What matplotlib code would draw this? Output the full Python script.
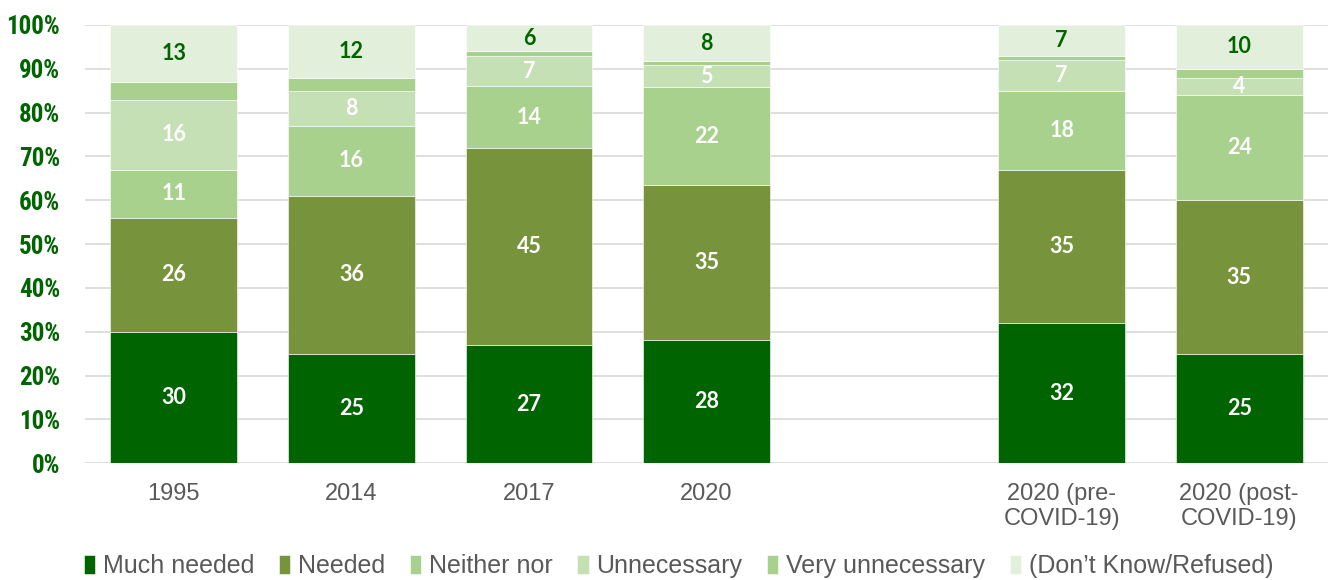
import numpy as np
import matplotlib
matplotlib.use("Agg")
import matplotlib.pyplot as plt
from matplotlib import font_manager
from matplotlib.ticker import FuncFormatter

# survey responses, percent of respondents
categories = ["1995", "2014", "2017", "2020", "2020 (pre-\nCOVID-19)", "2020 (post-\nCOVID-19)"]
positions = [0, 1, 2, 3, 5, 6]   # blank slot between 2020 and the COVID split

much_needed = [30, 25, 27, 28.1, 32, 25]
needed = [26, 36, 45, 35.4, 35, 35]
neither_nor = [11, 16, 14, 22.3, 18, 24]
unnecessary = [16, 8, 7, 5, 7, 4]
very_unnecessary = [4, 3, 1, 0.9, 1, 2]
dont_know = [13, 12, 6, 8.3, 7, 10]

series_names = ["Much needed", "Needed", "Neither nor", "Unnecessary",
                "Very unnecessary", "(Don\u2019t Know/Refused)"]
series_values = [much_needed, needed, neither_nor, unnecessary, very_unnecessary, dont_know]
series_colors = ["#006400", "#77933C", "#A9D18E", "#C5E0B4", "#A9D18E", "#E2EFDA"]
label_colors = ["white", "white", "white", "white", None, "#006400"]

GRAY = "#595959"
GREEN = "#006400"
regular = ["Liberation Sans", "DejaVu Sans"]


def pick_font(names):
    # first family that actually resolves to a bold face, else None
    for n in names:
        try:
            font_manager.findfont(font_manager.FontProperties(family=n, weight="bold"),
                                  fallback_to_default=False)
            return n
        except Exception:
            continue
    return None


narrow = pick_font(["Liberation Sans Narrow", "Arial Narrow", "Roboto Condensed",
                    "DejaVu Sans Condensed", "Open Sans Condensed"])
ytick_size = 18 if narrow else 14
if narrow is None:
    narrow = "Liberation Sans"

fig = plt.figure(figsize=(13.28, 5.8), dpi=100)
ax = fig.add_axes([0.064, 0.2012, 0.936, 0.7557])

bottom = np.zeros(len(positions))
handles = []
for name, vals, col, lcol in zip(series_names, series_values, series_colors, label_colors):
    vals = np.array(vals, dtype=float)
    bars = ax.bar(positions, vals, bottom=bottom, width=0.713, color=col,
                  edgecolor="white", linewidth=0.4, label=name, zorder=3)
    handles.append(bars)
    if lcol is not None:
        for x, b, v in zip(positions, bottom, vals):
            ax.text(x, b + v / 2, f"{v:.0f}", ha="center", va="center",
                    color=lcol, fontsize=15.5, fontweight="bold",
                    family=["Lato", "DejaVu Sans"], zorder=4)
    bottom += vals

ax.set_xlim(-0.5, 6.5)
ax.set_ylim(0, 100)
ax.set_yticks(np.arange(0, 101, 10))
ax.yaxis.set_major_formatter(FuncFormatter(lambda v, p: f"{v:.0f}%"))
ax.set_xticks(positions)
ax.set_xticklabels(categories)

ax.grid(axis="y", color="#D9D9D9", linewidth=1.2, zorder=0)
for s in ax.spines.values():
    s.set_visible(False)
ax.tick_params(axis="both", length=0)
ax.tick_params(axis="y", pad=18)
ax.tick_params(axis="x", pad=14)

for lab in ax.get_yticklabels():
    lab.set_family([narrow, "DejaVu Sans"])
    lab.set_fontweight("bold")
    lab.set_fontsize(ytick_size)
    lab.set_color(GREEN)
for lab in ax.get_xticklabels():
    lab.set_family(regular)
    lab.set_fontsize(17)
    lab.set_color(GRAY)

leg = fig.legend(handles=handles, loc="center", bbox_to_anchor=(0.511, 0.024),
                 ncol=6, frameon=False, handlelength=0.45, handleheight=0.75,
                 handletextpad=0.3, columnspacing=1.0,
                 prop={"family": regular, "size": 18})
for t in leg.get_texts():
    t.set_color(GRAY)

fig.savefig("out.png", dpi=100)
